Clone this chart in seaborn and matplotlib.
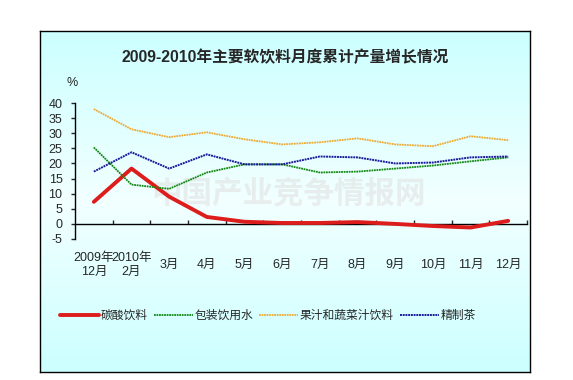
import numpy as np
import pandas as pd
import matplotlib
matplotlib.use("Agg")
import matplotlib.pyplot as plt
import seaborn as sns
from matplotlib.colors import LinearSegmentedColormap
from matplotlib.lines import Line2D

sns.set_style("white")
plt.rcParams['font.family'] = ['Liberation Sans', 'Noto Sans CJK SC', 'DejaVu Sans']
plt.rcParams['axes.unicode_minus'] = False

# data (cumulative growth, %)
months = ["2009年\n12月", "2010年\n2月", "3月", "4月", "5月", "6月",
          "7月", "8月", "9月", "10月", "11月", "12月"]
carbonated = [7.3, 18.3, 9.0, 2.3, 0.7, 0.3, 0.3, 0.6, 0.0, -0.7, -1.2, 1.0]
bottled_water = [25.3, 13.0, 11.6, 17.0, 19.7, 19.7, 17.0, 17.3, 18.3, 19.3, 20.7, 22.0]
juice = [38.0, 31.3, 28.7, 30.3, 28.0, 26.3, 27.0, 28.3, 26.3, 25.7, 29.0, 27.7]
tea = [17.3, 23.7, 18.3, 23.0, 19.7, 19.7, 22.3, 22.0, 20.0, 20.3, 22.0, 22.3]

series_names = ["碳酸饮料", "包装饮用水", "果汁和蔬菜汁饮料", "精制茶"]
series_values = [carbonated, bottled_water, juice, tea]
colors = ["#dd1c1c", "#118811", "#eeaa33", "#1a1a9c"]
widths = [2.8, 1.3, 1.3, 1.4]
styles = ["-", (0, (1, 0.4)), (0, (1, 0.4)), (0, (1, 0.4))]

title = "2009-2010年主要软饮料月度累计产量增长情况"
watermark = "中国产业竞争情报网"
yticks = [-5, 0, 5, 10, 15, 20, 25, 30, 35, 40]

W, H = 573, 380
fig = plt.figure(figsize=(W / 100, H / 100), dpi=100)
fig.patch.set_facecolor("white")

# framed gradient background
bg = fig.add_axes([40 / W, 1 - 372 / H, 490 / W, 341 / H])
cmap = LinearSegmentedColormap.from_list(
    "bg", [(0, "#ccffff"), (0.5, "#f2ffff"), (1, "#ccffff")])
grad = np.linspace(0, 1, 256).reshape(-1, 1)
bg.imshow(grad, aspect="auto", cmap=cmap, extent=[0, 1, 0, 1])
bg.set_xticks([])
bg.set_yticks([])
for s in bg.spines.values():
    s.set_color("black")
    s.set_linewidth(1.0)

bg.text(0.5, 1 - (57 - 31) / 341, title, ha="center", va="center",
        fontsize=11.3, fontweight="bold", transform=bg.transAxes)
bg.text(0.508, 1 - (193 - 31) / 341, watermark, ha="center", va="center",
        fontsize=22, fontweight="bold", color="#e2e2e2", alpha=0.6,
        family=["Noto Sans CJK SC"], transform=bg.transAxes, zorder=1)

ax = fig.add_axes([75 / W, 1 - 239 / H, (527 - 75) / W, (239 - 103) / H])
ax.set_facecolor("none")

x = np.arange(len(months))
for name, vals, c, lw, ls in zip(series_names, series_values, colors, widths, styles):
    sns.lineplot(x=x, y=vals, ax=ax, color=c, linewidth=lw, linestyle=ls,
                 zorder=3)

ax.set_xlim(-0.5, len(months) - 0.5)
ax.set_ylim(-5, 40)
ax.set_yticks(yticks)
ax.tick_params(axis="y", direction="out", length=3, width=1, pad=6,
               labelsize=9, left=True)

ax.spines["bottom"].set_position(("data", 0))
for side in ["top", "right"]:
    ax.spines[side].set_visible(False)
for side in ["left", "bottom"]:
    ax.spines[side].set_color("black")
    ax.spines[side].set_linewidth(1.0)

ax.set_xticks(np.arange(0.5, len(months), 1.0))
ax.set_xticklabels([])
ax.tick_params(axis="x", direction="in", length=3, width=1, bottom=True)

for i, lab in enumerate(months):
    ax.text(i, -0.19, lab, ha="center", va="center", fontsize=9,
            linespacing=1.2, transform=ax.get_xaxis_transform())

ax.text(-0.007, 1.147, "%", ha="center", va="center", fontsize=9,
        transform=ax.transAxes)

handles = [Line2D([], [], color=c, lw=lw, ls=ls)
           for c, lw, ls in zip(colors, widths, styles)]
fig.legend(handles, series_names, loc="center", ncol=4,
           bbox_to_anchor=(268 / W, 1 - 316 / H), frameon=False,
           fontsize=8.5, handlelength=3.3, handletextpad=0.15,
           columnspacing=0.5)

fig.savefig("out.png", dpi=100)
